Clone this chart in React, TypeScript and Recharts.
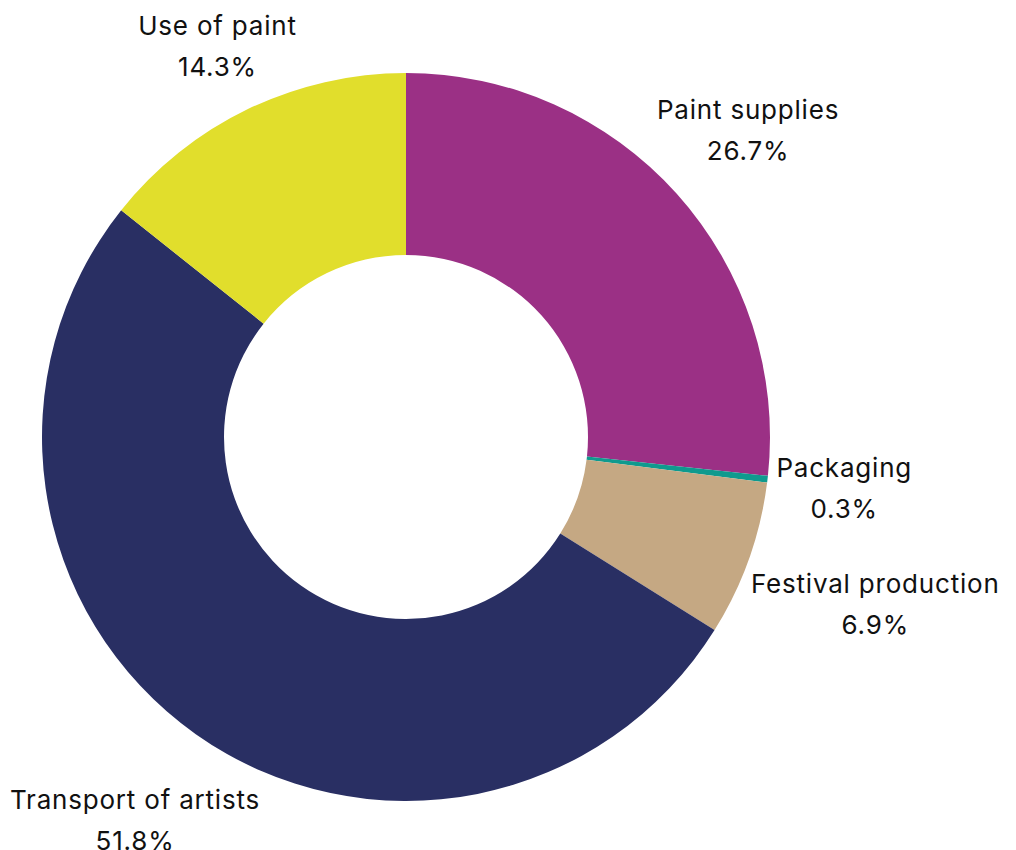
import React from 'react';
import { PieChart, Pie, Cell } from 'recharts';

const categories = ['Paint supplies', 'Packaging', 'Festival production', 'Transport of artists', 'Use of paint'];
const shares = [26.7, 0.3, 6.9, 51.8, 14.3];
const COLORS = ['#9B3085', '#0F9A8E', '#C5A883', '#292F63', '#E1DE2C'];

const data = categories.map((name, i) => ({ name, value: shares[i] }));

const FONT_SIZE = 26;
const LETTER_SPACING = 0.8;
const FONT_FAMILY = 'Inter, "Noto Sans", sans-serif';
const LINE_GAP = 41;
const RADIAN = Math.PI / 180;

if (typeof document !== 'undefined') {
  document.body.style.margin = '0';
}

let ctx: CanvasRenderingContext2D | null = null;
const measure = (text: string) => {
  if (!ctx) ctx = document.createElement('canvas').getContext('2d');
  const base = ctx ? (ctx.font = `${FONT_SIZE}px Inter`, ctx.measureText(text).width) : text.length * FONT_SIZE * 0.55;
  return base + text.length * LETTER_SPACING;
};

const renderLabel = (props: any) => {
  const { cx, cy, midAngle, outerRadius, name, value } = props;
  const pct = `${value.toFixed(1)}%`;
  const halfW = Math.max(measure(name), measure(pct)) / 2;
  const halfH = 33;
  const cos = Math.cos(-midAngle * RADIAN);
  const sin = Math.sin(-midAngle * RADIAN);
  const r = outerRadius + 6 + Math.abs(cos) * halfW + Math.abs(sin) * halfH;
  const x = cx + r * cos;
  const y = cy + r * sin;
  const textProps = {
    textAnchor: 'middle' as const,
    dominantBaseline: 'central' as const,
    fill: '#111',
    fontSize: FONT_SIZE,
    fontFamily: FONT_FAMILY,
    letterSpacing: LETTER_SPACING,
  };
  return (
    <g>
      <text x={x} y={y - LINE_GAP / 2} {...textProps}>{name}</text>
      <text x={x} y={y + LINE_GAP / 2} {...textProps}>{pct}</text>
    </g>
  );
};

export default function App() {
  return (
    <div style={{ width: 1016, height: 850, background: '#fff' }}>
      <PieChart width={1016} height={850} margin={{ top: 0, right: 0, bottom: 0, left: 0 }}>
        <Pie
          data={data}
          dataKey="value"
          nameKey="name"
          cx={406}
          cy={437}
          innerRadius={182}
          outerRadius={364}
          startAngle={90}
          endAngle={-270}
          stroke="none"
          labelLine={false}
          label={renderLabel}
          isAnimationActive={false}
        >
          {data.map((entry, index) => (
            <Cell key={`cell-${index}`} fill={COLORS[index]} />
          ))}
        </Pie>
      </PieChart>
    </div>
  );
}
